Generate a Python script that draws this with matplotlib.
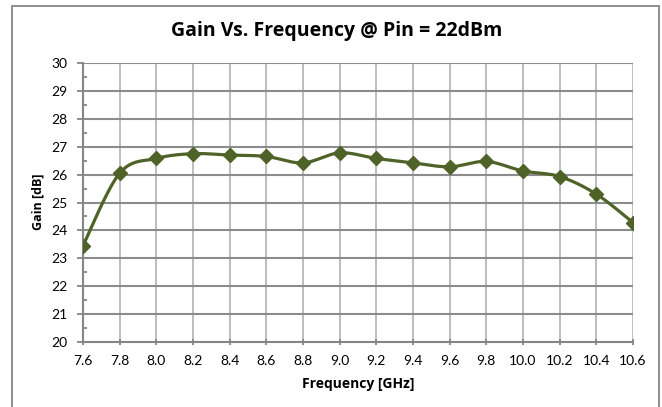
import numpy as np
import matplotlib
matplotlib.use("Agg")
import matplotlib.pyplot as plt
from matplotlib.patches import Rectangle

plt.rcParams['font.family'] = ['Lato', 'DejaVu Sans']

freq_ghz = [7.6, 7.8, 8.0, 8.2, 8.4, 8.6, 8.8, 9.0, 9.2, 9.4, 9.6, 9.8, 10.0, 10.2, 10.4, 10.6]
gain_db = [23.45, 26.05, 26.58, 26.75, 26.70, 26.65, 26.42, 26.78, 26.58, 26.42,
           26.28, 26.47, 26.13, 25.93, 25.30, 24.28]
x_ticks = [7.6, 7.8, 8.0, 8.2, 8.4, 8.6, 8.8, 9.0, 9.2, 9.4, 9.6, 9.8, 10.0, 10.2, 10.4, 10.6]
y_ticks = [20, 21, 22, 23, 24, 25, 26, 27, 28, 29, 30]


def smooth_curve(x, y, steps=30, tension=0.5):
    """Cardinal-spline interpolation through the given points."""
    x = np.asarray(x, float)
    y = np.asarray(y, float)
    px = np.concatenate([[x[0]], x, [x[-1]]])
    py = np.concatenate([[y[0]], y, [y[-1]]])
    xs, ys = [], []
    t = np.linspace(0, 1, steps, endpoint=False)
    for i in range(1, len(px) - 2):
        p0x, p1x, p2x, p3x = px[i - 1:i + 3]
        p0y, p1y, p2y, p3y = py[i - 1:i + 3]
        m1x, m2x = tension * (p2x - p0x), tension * (p3x - p1x)
        m1y, m2y = tension * (p2y - p0y), tension * (p3y - p1y)
        h00 = 2 * t**3 - 3 * t**2 + 1
        h10 = t**3 - 2 * t**2 + t
        h01 = -2 * t**3 + 3 * t**2
        h11 = t**3 - t**2
        xs.append(h00 * p1x + h10 * m1x + h01 * p2x + h11 * m2x)
        ys.append(h00 * p1y + h10 * m1y + h01 * p2y + h11 * m2y)
    xs.append([x[-1]])
    ys.append([y[-1]])
    return np.concatenate(xs), np.concatenate(ys)


W, H = 662, 407
fig = plt.figure(figsize=(W / 100, H / 100), dpi=100)
fig.patch.set_facecolor('white')
# outer chart frame (bottom edge runs past the canvas)
fig.add_artist(Rectangle((12 / W, -4 / H), 647 / W, (H - 6 + 4) / H,
                         transform=fig.transFigure, fill=False,
                         edgecolor='#868686', linewidth=1.3))

ax = fig.add_axes([83 / W, (H - 342) / H, 550 / W, 279 / H])
ax.set_xlim(7.6, 10.6)
ax.set_ylim(20, 30)

line_color = '#4f6228'
hgrid_color = '#8c8c8c'
vgrid_color = '#b8b8b8'

for xv in x_ticks[1:]:
    ax.axvline(xv, color=vgrid_color, linewidth=1.3, zorder=1)
for yv in y_ticks[1:]:
    ax.axhline(yv, color=hgrid_color, linewidth=1.5, zorder=1.5)

sx, sy = smooth_curve(freq_ghz, gain_db)
ax.plot(sx, sy, color=line_color, linewidth=2.3, zorder=3, solid_capstyle='round')
ax.plot(freq_ghz, gain_db, linestyle='none', marker='D', markersize=7.5,
        color=line_color, zorder=4)

for side in ['top', 'right']:
    ax.spines[side].set_visible(False)
for side in ['left', 'bottom']:
    ax.spines[side].set_color('#868686')
    ax.spines[side].set_linewidth(1.5)

ax.set_xticks(x_ticks)
ax.set_xticklabels([f"{v:.1f}" for v in x_ticks], fontsize=10)
ax.set_yticks(y_ticks)
ax.set_yticklabels([str(v) for v in y_ticks], fontsize=10)
ax.set_yticks(np.arange(20.5, 30, 1.0), minor=True)
ax.tick_params(axis='y', which='major', length=4, width=1.3, color='#868686',
               direction='out', pad=7, labelcolor='black')
ax.tick_params(axis='y', which='minor', length=3, width=1.3, color='#868686',
               direction='in')
ax.tick_params(axis='x', which='major', length=5, width=1.3, color='#868686',
               direction='inout', pad=7, labelcolor='black')

fig.text(358 / W, 1 - 384 / H, 'Frequency [GHz]', ha='center', va='center',
         fontsize=10, fontweight='bold', family=['Open Sans', 'DejaVu Sans'])
fig.text(38 / W, 1 - 202 / H, 'Gain [dB]', ha='center', va='center', rotation=90,
         fontsize=9, fontweight='bold', family=['Open Sans', 'DejaVu Sans'])
fig.text(337 / W, 1 - 31 / H, 'Gain Vs. Frequency @ Pin = 22dBm',
         ha='center', va='center', fontsize=14, fontweight='bold',
         family=['Open Sans', 'DejaVu Sans'])

fig.savefig('out.png', dpi=100, facecolor='white')
